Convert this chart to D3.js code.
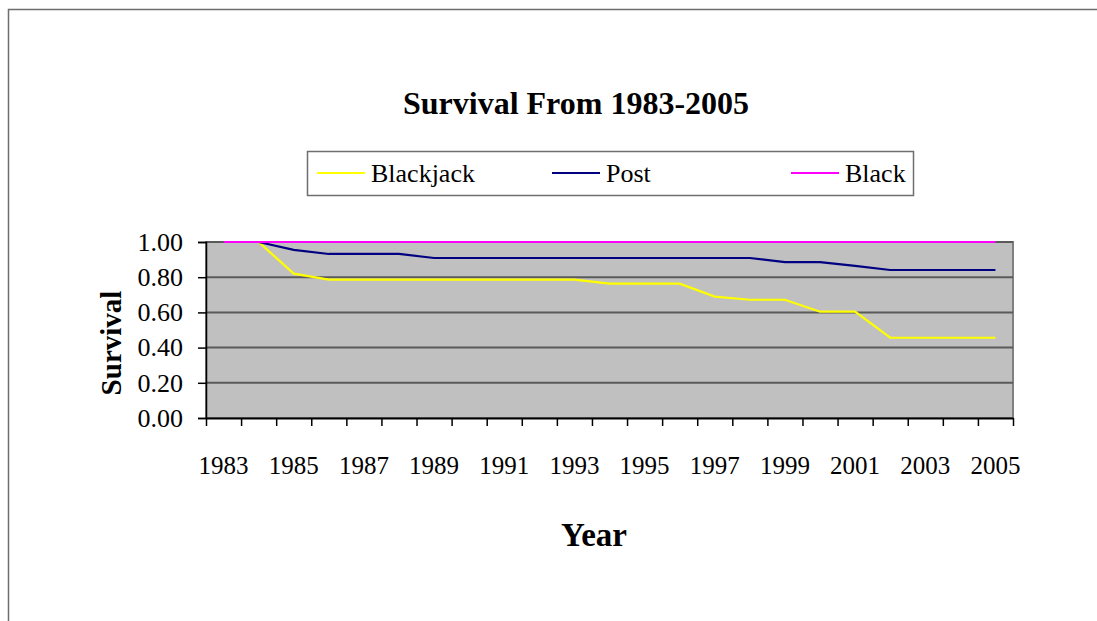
<!DOCTYPE html>
<html>
<head>
<meta charset="utf-8">
<script src="https://cdn.jsdelivr.net/npm/d3@7"></script>
<style>
  body { margin: 0; background: #fff; }
  svg { display: block; font-family: "Liberation Serif", "Times New Roman", serif; }
</style>
</head>
<body>
<div id="chart"></div>
<script>
  // The data that we will be drawing
  var years = d3.range(1983, 2006);
  var blackjack = [1, 1, 0.82, 0.786, 0.786, 0.786, 0.786, 0.786, 0.786, 0.786, 0.786,
    0.763, 0.763, 0.763, 0.69, 0.672, 0.672, 0.604, 0.604, 0.456, 0.456, 0.456, 0.456];
  var post = [1, 1, 0.955, 0.932, 0.932, 0.932, 0.909, 0.909, 0.909, 0.909, 0.909,
    0.909, 0.909, 0.909, 0.909, 0.909, 0.886, 0.886, 0.864, 0.841, 0.841, 0.841, 0.841];
  var black = [1, 1, 1, 1, 1, 1, 1, 1, 1, 1, 1, 1, 1, 1, 1, 1, 1, 1, 1, 1, 1, 1, 1];
  var yTicks = [0, 0.2, 0.4, 0.6, 0.8, 1.0];

  var seriesNames = ["Blackjack", "Post", "Black"];
  var seriesColors = ["#ffff00", "#000080", "#ff00ff"];
  var seriesData = [blackjack, post, black];

  var width = 1097, height = 621;
  var plot = { left: 206, right: 1013, top: 242, bottom: 418 };

  var svg = d3.select("#chart").append("svg")
    .attr("width", width)
    .attr("height", height);

  // Outer chart border (runs off the page on the right and bottom)
  svg.append("rect")
    .attr("x", 8.5).attr("y", 9.5)
    .attr("width", 1200).attr("height", 800)
    .attr("fill", "none")
    .attr("stroke", "#6e6e6e")
    .attr("stroke-width", 1.5);

  // Scales
  var x = d3.scaleBand().domain(years).range([plot.left, plot.right]).padding(0);
  var xTickScale = d3.scaleLinear().domain([0, years.length]).range([plot.left, plot.right]);
  var y = d3.scaleLinear().domain([0, 1]).range([plot.bottom, plot.top]);

  // Plot area background
  svg.append("rect")
    .attr("x", plot.left).attr("y", plot.top)
    .attr("width", plot.right - plot.left).attr("height", plot.bottom - plot.top)
    .attr("fill", "#c0c0c0")
    .attr("stroke", "#808080")
    .attr("stroke-width", 2);

  // Gridlines
  svg.append("g").selectAll("line")
    .data(yTicks.filter(d => d > 0))
    .join("line")
    .attr("x1", plot.left).attr("x2", plot.right)
    .attr("y1", d => y(d)).attr("y2", d => y(d))
    .attr("stroke", "#5a5a5a")
    .attr("stroke-width", 2);

  // Y axis
  var yAxis = svg.append("g")
    .attr("transform", `translate(${plot.left},0)`)
    .call(d3.axisLeft(y).tickValues(yTicks).tickFormat(d3.format(".2f")).tickSize(8).tickPadding(15));
  yAxis.attr("font-family", null);
  yAxis.select(".domain").attr("stroke", "#000").attr("stroke-width", 1.5);
  yAxis.selectAll(".tick line").attr("stroke", "#000").attr("stroke-width", 1.5);
  yAxis.selectAll("text")
    .attr("font-size", 26)
    .attr("fill", "#000");

  // X axis (ticks between categories)
  var xAxis = svg.append("g")
    .attr("transform", `translate(0,${plot.bottom})`)
    .call(d3.axisBottom(xTickScale).tickValues(d3.range(years.length + 1)).tickFormat("").tickSize(8).tickSizeOuter(0));
  xAxis.select(".domain").attr("stroke", "#000").attr("stroke-width", 2);
  xAxis.selectAll(".tick line").attr("stroke", "#000").attr("stroke-width", 1.5);

  // X labels every other year
  svg.append("g").selectAll("text")
    .data(years.filter((d, i) => i % 2 == 0))
    .join("text")
    .attr("x", d => x(d) + x.bandwidth() / 2)
    .attr("y", 474)
    .attr("text-anchor", "middle")
    .attr("font-size", 25)
    .attr("fill", "#000")
    .text(d => d);

  // Lines
  var line = d3.line()
    .x((d, i) => x(years[i]) + x.bandwidth() / 2)
    .y(d => y(d));

  svg.append("g").selectAll("path")
    .data(seriesData)
    .join("path")
    .attr("d", line)
    .attr("fill", "none")
    .attr("stroke", (d, i) => seriesColors[i])
    .attr("stroke-width", 2.2);

  // Title
  svg.append("text")
    .attr("x", 576).attr("y", 114)
    .attr("text-anchor", "middle")
    .attr("font-size", 32)
    .attr("font-weight", "bold")
    .text("Survival From 1983-2005");

  // Axis titles
  svg.append("text")
    .attr("x", 594).attr("y", 546)
    .attr("text-anchor", "middle")
    .attr("font-size", 33)
    .attr("font-weight", "bold")
    .text("Year");

  svg.append("text")
    .attr("transform", "translate(121,343) rotate(-90)")
    .attr("text-anchor", "middle")
    .attr("font-size", 29)
    .attr("font-weight", "bold")
    .text("Survival");

  // Legend
  var legend = svg.append("g");
  legend.append("rect")
    .attr("x", 307.5).attr("y", 151.5)
    .attr("width", 606).attr("height", 44)
    .attr("fill", "#fff")
    .attr("stroke", "#6e6e6e")
    .attr("stroke-width", 1.5);
  var legendX = [317, 552, 791];
  var items = legend.selectAll("g.item")
    .data(seriesNames)
    .join("g")
    .attr("class", "item")
    .attr("transform", (d, i) => `translate(${legendX[i]},173)`);
  items.append("line")
    .attr("x1", 0).attr("x2", 48)
    .attr("stroke", (d, i) => seriesColors[i])
    .attr("stroke-width", 2);
  items.append("text")
    .attr("x", 54).attr("y", 9)
    .attr("font-size", 26)
    .attr("fill", "#000")
    .text(d => d);
</script>
</body>
</html>
